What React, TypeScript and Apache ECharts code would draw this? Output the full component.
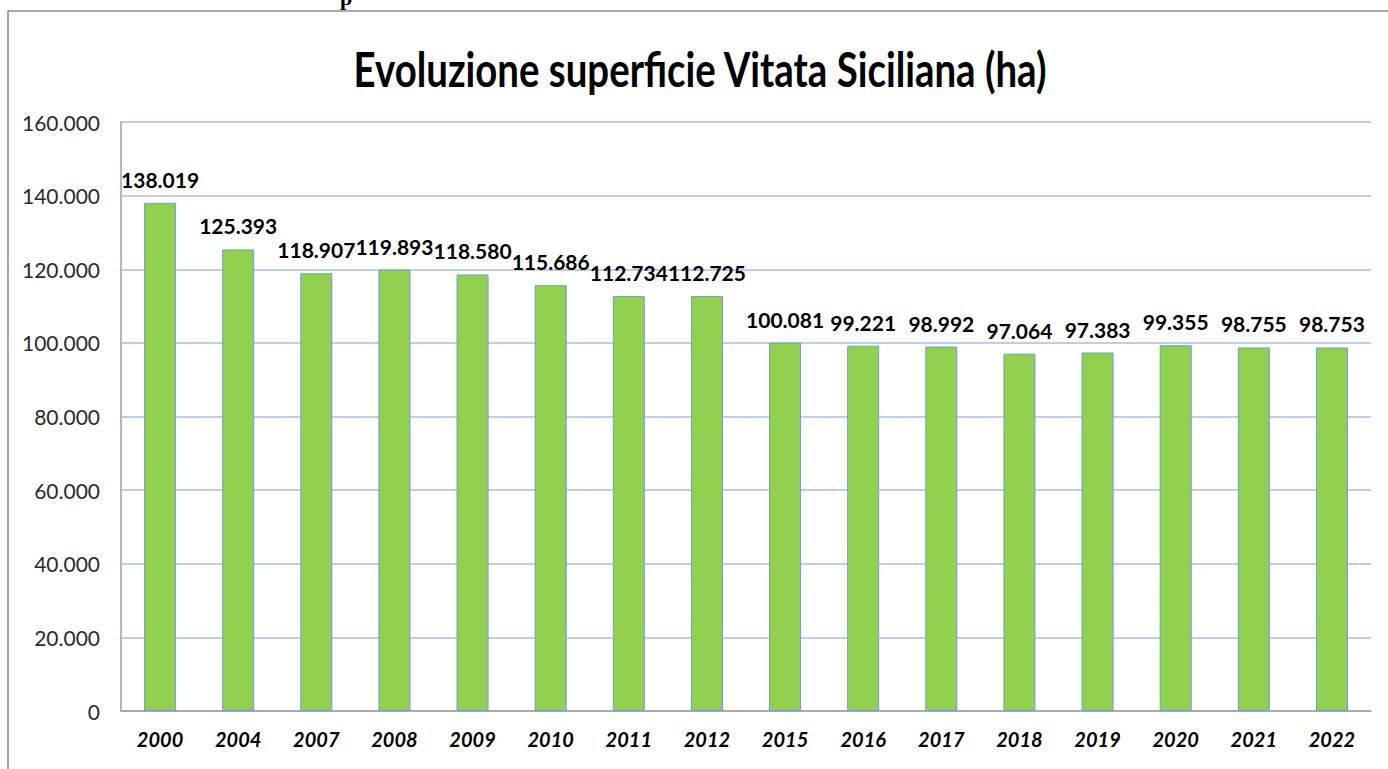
import React, { useEffect, useRef } from "react";
import * as echarts from "echarts";

const years = ["2000", "2004", "2007", "2008", "2009", "2010", "2011", "2012", "2015", "2016", "2017", "2018", "2019", "2020", "2021", "2022"];
const hectares = [138019, 125393, 118907, 119893, 118580, 115686, 112734, 112725, 100081, 99221, 98992, 97064, 97383, 99355, 98755, 98753];
const yTicks = [0, 20000, 40000, 60000, 80000, 100000, 120000, 140000, 160000];
const titleText = "Evoluzione superficie Vitata Siciliana (ha)";

const fmt = (v: number) => String(Math.round(v)).replace(/\B(?=(\d{3})+(?!\d))/g, ".");

export default function App() {
  const ref = useRef<HTMLDivElement>(null);
  useEffect(() => {
    if (!ref.current) return;
    const chart = echarts.init(ref.current, undefined, { renderer: "svg" });
    chart.setOption({
      animation: false,
      backgroundColor: "#ffffff",
      graphic: [
        {
          type: "rect",
          shape: { x: 8, y: 11, width: 1400, height: 800 },
          style: { fill: "none", stroke: "#8c8c8c", lineWidth: 1.5 },
          silent: true,
        },
        {
          type: "text",
          x: 340,
          y: -14,
          style: { text: "p", font: "bold 22px 'Liberation Serif'", fill: "#000" },
          silent: true,
        },
        {
          type: "text",
          x: 700,
          y: 69,
          scaleX: 0.96,
          scaleY: 1.18,
          style: {
            text: titleText,
            font: "bold 40px Lato",
            fill: "#000000",
            align: "center",
            verticalAlign: "middle",
          },
          silent: true,
        },
      ],
      grid: { left: 121, right: 17, top: 122, bottom: 58, containLabel: false },
      xAxis: {
        type: "category",
        data: years,
        axisLine: { show: true, lineStyle: { color: "#a0a0a0", width: 1.5 } },
        axisTick: { show: false },
        axisLabel: {
          margin: 18,
          fontFamily: "Lato",
          fontWeight: "bold",
          fontStyle: "italic",
          fontSize: 20,
          color: "#000000",
        },
      },
      yAxis: {
        type: "value",
        min: 0,
        max: 160000,
        interval: 20000,
        axisLine: { show: true, lineStyle: { color: "#a0a0a0", width: 1.5 } },
        axisTick: { show: false },
        splitLine: { show: true, lineStyle: { color: "#a3bfe9", width: 1.5 } },
        axisLabel: {
          margin: 21,
          fontFamily: "Lato",
          fontSize: 21,
          color: "#2a2a2a",
          formatter: (v: number) => (yTicks.includes(v) ? fmt(v) : ""),
        },
      },
      series: [
        {
          type: "bar",
          data: hectares,
          barWidth: 32,
          itemStyle: { color: "#92d050", borderColor: "#6f9bd8", borderWidth: 1 },
          label: {
            show: true,
            position: "top",
            distance: 13,
            fontFamily: "Lato",
            fontWeight: "bold",
            fontSize: 21,
            color: "#000000",
            formatter: (p: any) => fmt(p.value),
          },
        },
      ],
    });
    return () => chart.dispose();
  }, []);
  return <div ref={ref} style={{ position: "fixed", left: 0, top: 0, width: 1388, height: 769 }} />;
}
